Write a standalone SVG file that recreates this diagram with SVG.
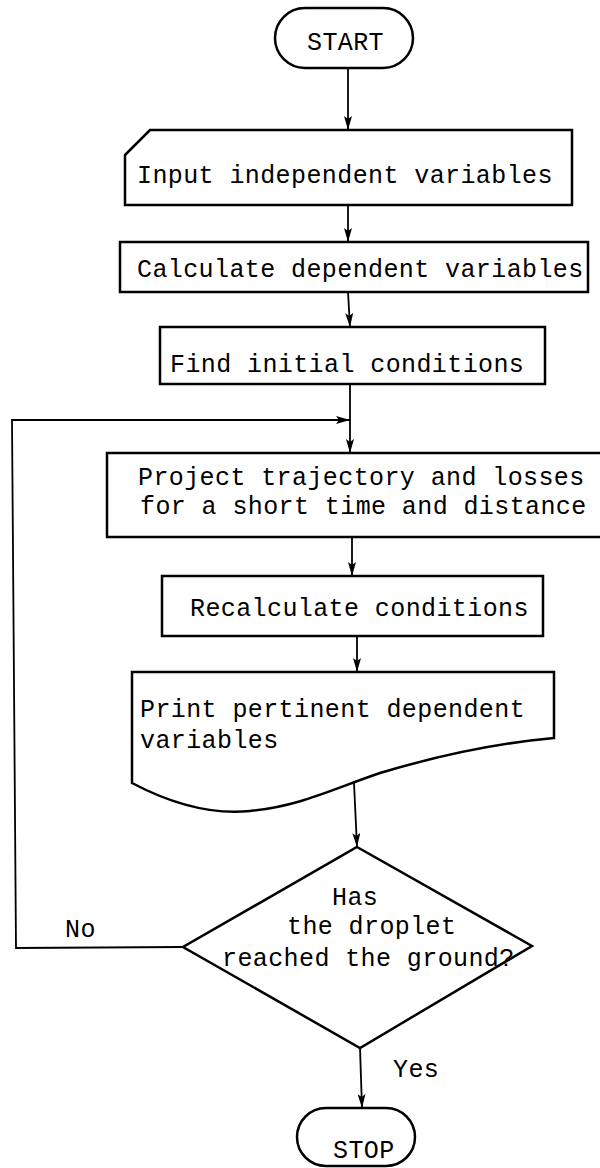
<svg xmlns="http://www.w3.org/2000/svg" width="600" height="1168" viewBox="0 0 600 1168">
<style>
.shape{fill:#fff;stroke:#000;stroke-width:2.5;stroke-linejoin:miter}
.conn{fill:none;stroke:#000;stroke-width:1.8}
.t{font-family:"Liberation Mono","Courier New",monospace;font-size:25px;letter-spacing:0.4px;fill:#000}
</style>
<defs>
<marker id="arr" markerUnits="userSpaceOnUse" markerWidth="14" markerHeight="8" viewBox="0 0 14 8" refX="14" refY="4" orient="auto">
<path d="M0,0 L14,4 L0,8 L3,4 Z" fill="#000"/>
</marker>
</defs>
<rect width="600" height="1168" fill="#fff"/>
<g id="connectors">
<line class="conn" x1="348" y1="68" x2="348" y2="130" marker-end="url(#arr)"/>
<line class="conn" x1="348" y1="205" x2="348" y2="242" marker-end="url(#arr)"/>
<line class="conn" x1="348" y1="292" x2="350" y2="327" marker-end="url(#arr)"/>
<line class="conn" x1="350" y1="384" x2="350" y2="453" marker-end="url(#arr)"/>
<polyline class="conn" points="183,947 16,948 12,420 350,420" marker-end="url(#arr)"/>
<line class="conn" x1="352" y1="537" x2="352" y2="576" marker-end="url(#arr)"/>
<line class="conn" x1="357" y1="636" x2="357" y2="672" marker-end="url(#arr)"/>
<line class="conn" x1="354" y1="783" x2="357" y2="847" marker-end="url(#arr)"/>
<line class="conn" x1="360" y1="1048" x2="362" y2="1108" marker-end="url(#arr)"/>
<text class="t" x="65" y="937">No</text>
<text class="t" x="393" y="1077">Yes</text>
</g>
<g id="start">
<rect class="shape" x="275" y="8" width="138" height="60" rx="30" ry="30"/>
<text class="t" x="307" y="50">START</text>
</g>
<g id="input">
<path class="shape" d="M125,155 L150,130 L572,130 L572,205 L125,205 Z"/>
<text class="t" x="137" y="183">Input independent variables</text>
</g>
<g id="calculate">
<rect class="shape" x="120" y="242" width="468" height="50"/>
<text class="t" x="137" y="277">Calculate dependent variables</text>
</g>
<g id="find">
<rect class="shape" x="160" y="327" width="385" height="57"/>
<text class="t" x="170" y="372">Find initial conditions</text>
</g>
<g id="project">
<rect class="shape" x="107" y="453" width="500" height="84"/>
<text class="t" x="138" y="485">Project trajectory and losses</text>
<text class="t" x="140" y="514">for a short time and distance</text>
</g>
<g id="recalculate">
<rect class="shape" x="162" y="576" width="381" height="60"/>
<text class="t" x="190" y="616">Recalculate conditions</text>
</g>
<g id="print">
<path class="shape" d="M132,672 L554,672 L554,738 C510,742 450,752 380,773 C330,790 300,806 250,811 C210,815 170,803 132,783 Z"/>
<text class="t" x="140" y="717">Print pertinent dependent</text>
<text class="t" x="140" y="748">variables</text>
</g>
<g id="decision">
<polygon class="shape" points="357,847 532,946 360,1048 183,947"/>
<text class="t" x="332" y="905">Has</text>
<text class="t" x="287" y="934">the droplet</text>
<text class="t" x="222" y="966">reached the ground?</text>
</g>
<g id="stop">
<rect class="shape" x="297" y="1108" width="118" height="58" rx="29" ry="29"/>
<text class="t" x="333" y="1158">STOP</text>
</g>
</svg>
